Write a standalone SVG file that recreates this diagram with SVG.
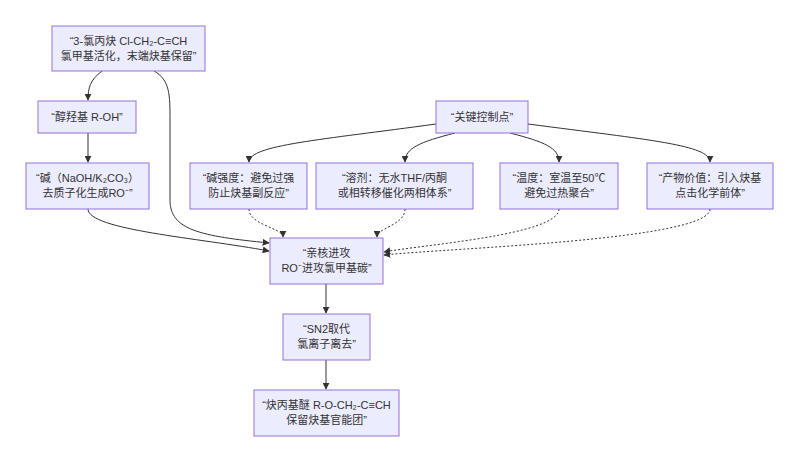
<svg xmlns="http://www.w3.org/2000/svg" width="799" height="462" viewBox="0 0 799 462">
<style>
.n rect{fill:#ECECFF;stroke:#9370DB;stroke-width:1}
.n text{font-family:"Liberation Sans","Noto Sans CJK SC",sans-serif;font-size:11px;fill:#333;text-anchor:middle}
.e path{fill:none;stroke:#333;stroke-width:1}
.e path.d{stroke-dasharray:2 2}
</style>
<defs><marker id="a" viewBox="0 0 10 10" refX="9" refY="5" markerWidth="7" markerHeight="7" orient="auto"><path d="M0,0L10,5L0,10z" fill="#333"/></marker></defs>
<rect width="799" height="462" fill="#fff"/>
<g class="e">
<path d="M102,71 C90,80 88,88 88,100" marker-end="url(#a)"/>
<path d="M88,133 V162" marker-end="url(#a)"/>
<path d="M154,71 C170,80 170,95 170,120 V200 C170,230 200,236 269,243" marker-end="url(#a)"/>
<path d="M88,209 C88,230 200,238 269,251" marker-end="url(#a)"/>
<path d="M436,124 C320,140 249,145 249,162" marker-end="url(#a)"/>
<path d="M455,133 C420,142 405,148 405,162" marker-end="url(#a)"/>
<path d="M510,133 C545,142 559,148 559,162" marker-end="url(#a)"/>
<path d="M528,124 C650,140 710,145 710,162" marker-end="url(#a)"/>
<path class="d" d="M249,209 C249,225 283,228 283,237" marker-end="url(#a)"/>
<path class="d" d="M405,209 C405,225 377,228 377,237" marker-end="url(#a)"/>
<path class="d" d="M559,209 C559,235 420,245 384,252" marker-end="url(#a)"/>
<path class="d" d="M710,209 C710,240 450,248 384,255" marker-end="url(#a)"/>
<path d="M326,284 V313" marker-end="url(#a)"/>
<path d="M326,360 V389" marker-end="url(#a)"/>
</g>
<g id="A" class="n"><rect x="52" y="26" width="153" height="45"/><text x="128.5" y="45">“3-氯丙炔 Cl-CH₂-C≡CH</text><text x="128.5" y="60">氯甲基活化，末端炔基保留”</text></g>
<g id="B" class="n"><rect x="38" y="101" width="98" height="32"/><text x="87" y="121">“醇羟基 R-OH”</text></g>
<g id="C" class="n"><rect x="26" y="163" width="123" height="46"/><text x="87.5" y="182">“碱（NaOH/K₂CO₃）</text><text x="87.5" y="197">去质子化生成RO⁻”</text></g>
<g id="D" class="n"><rect x="436" y="101" width="92" height="32"/><text x="482" y="121">“关键控制点”</text></g>
<g id="E1" class="n"><rect x="190" y="163" width="117" height="46"/><text x="248.5" y="182">“碱强度：避免过强</text><text x="248.5" y="197">防止炔基副反应”</text></g>
<g id="E2" class="n"><rect x="316" y="163" width="157" height="46"/><text x="394.5" y="182">“溶剂：无水THF/丙酮</text><text x="394.5" y="197">或相转移催化两相体系”</text></g>
<g id="E3" class="n"><rect x="500" y="163" width="118" height="46"/><text x="559" y="182">“温度：室温至50℃</text><text x="559" y="197">避免过热聚合”</text></g>
<g id="E4" class="n"><rect x="647" y="163" width="126" height="46"/><text x="710" y="182">“产物价值：引入炔基</text><text x="710" y="197">点击化学前体”</text></g>
<g id="F" class="n"><rect x="270" y="238" width="113" height="46"/><text x="326.5" y="257">“亲核进攻</text><text x="326.5" y="272">RO⁻进攻氯甲基碳”</text></g>
<g id="G" class="n"><rect x="283" y="314" width="87" height="46"/><text x="326.5" y="333">“SN2取代</text><text x="326.5" y="348">氯离子离去”</text></g>
<g id="H" class="n"><rect x="254" y="390" width="145" height="46"/><text x="326.5" y="409">“炔丙基醚 R-O-CH₂-C≡CH</text><text x="326.5" y="424">保留炔基官能团”</text></g>
</svg>
